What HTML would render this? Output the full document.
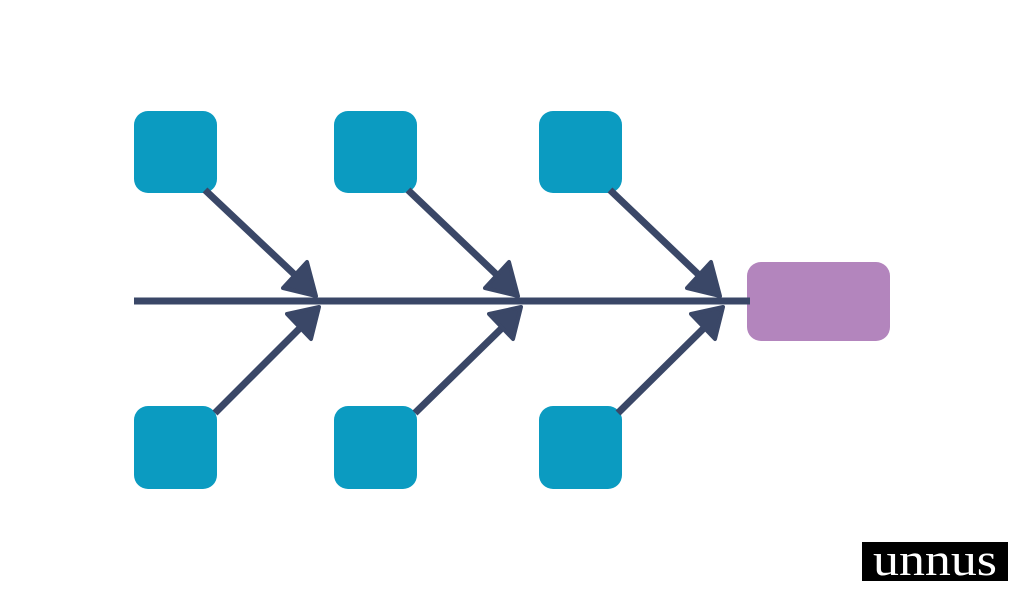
<!DOCTYPE html>
<html><head><meta charset="utf-8"><style>
html,body{margin:0;padding:0;background:#fff;width:1024px;height:600px;overflow:hidden}
</style></head><body>
<svg width="1024" height="600" viewBox="0 0 1024 600" xmlns="http://www.w3.org/2000/svg">
<rect width="1024" height="600" fill="#fff"/>
<g fill="#0b9bc1">
<rect x="134" y="111" width="83" height="82" rx="14"/>
<rect x="334" y="111" width="83" height="82" rx="14"/>
<rect x="539" y="111" width="83" height="82" rx="14"/>
<rect x="134" y="406" width="83" height="83" rx="14"/>
<rect x="334" y="406" width="83" height="83" rx="14"/>
<rect x="539" y="406" width="83" height="83" rx="14"/>
</g>
<rect x="747" y="262" width="143" height="79" rx="14" fill="#b385bd"/>
<g stroke="#3a4767" stroke-width="7" fill="none">
<line x1="134" y1="301" x2="750" y2="301"/>
<line x1="205" y1="190" x2="295" y2="275"/>
<line x1="408" y1="190" x2="497" y2="275"/>
<line x1="610" y1="190" x2="699" y2="275"/>
<line x1="215" y1="413" x2="300" y2="328"/>
<line x1="415" y1="413" x2="502" y2="328"/>
<line x1="618" y1="413" x2="704" y2="328"/>
</g>
<g fill="#3a4767" stroke="#3a4767" stroke-width="4" stroke-linejoin="round">
<polygon points="316,296 283,288 307,262"/>
<polygon points="518,296 485,288 509,262"/>
<polygon points="720,296 687,288 711,262"/>
<polygon points="319,307 287,314 311,339"/>
<polygon points="521,307 489,314 513,339"/>
<polygon points="723,307 691,314 715,339"/>
</g>
<rect x="862" y="542" width="146" height="39" fill="#000"/>
<text x="935" y="575" text-anchor="middle" font-family="Liberation Serif, serif" font-size="46" fill="#fff" textLength="124" lengthAdjust="spacingAndGlyphs">unnus</text>
</svg>
</body></html>
